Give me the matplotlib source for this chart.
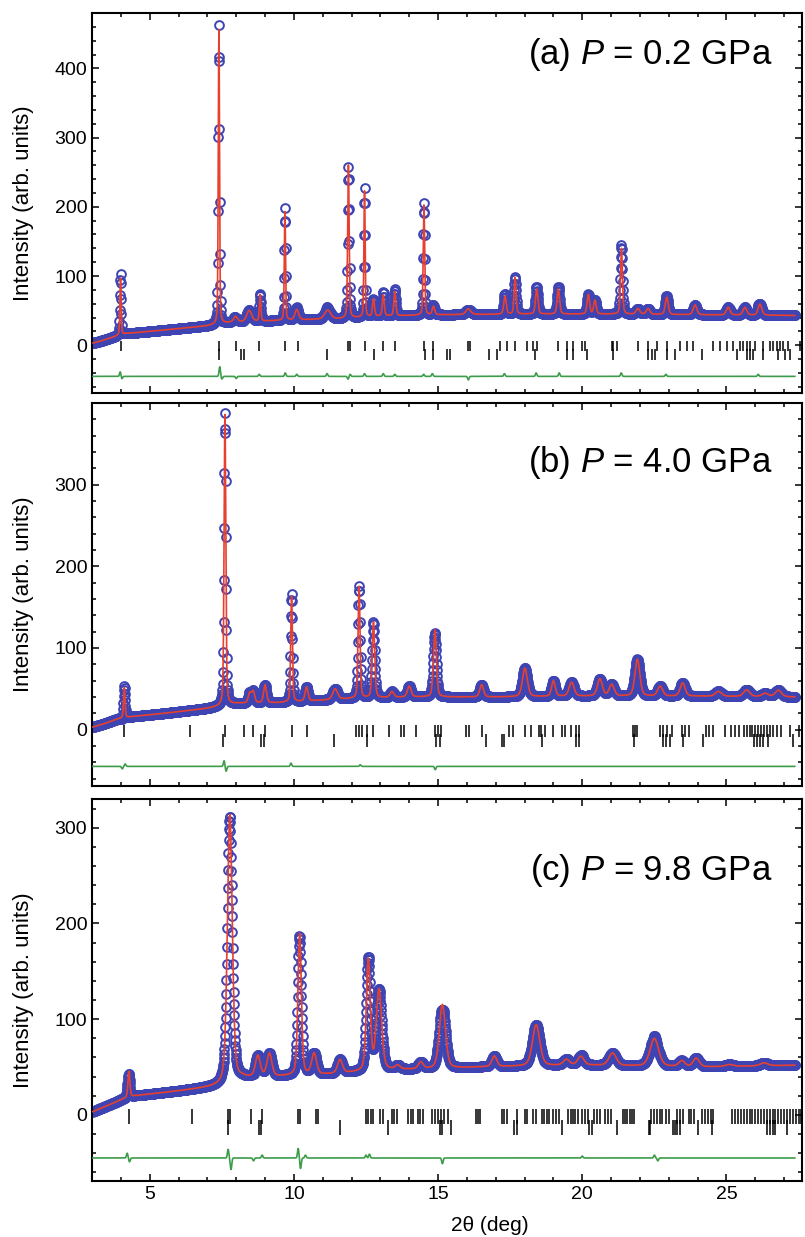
import matplotlib.pyplot as plt
import numpy as np
from matplotlib.ticker import MultipleLocator

plt.rcParams['font.family'] = ['Liberation Sans', 'DejaVu Sans']
plt.rcParams['mathtext.fontset'] = 'custom'
plt.rcParams['mathtext.it'] = 'Liberation Sans:italic'
plt.rcParams['mathtext.rm'] = 'Liberation Sans'

# scan range (2theta, deg) and step
two_theta_start = 3.03
two_theta_stop = 27.38
step = 0.01

# ---- panel (a) P = 0.2 GPa ----
bg_a_x = [3.0, 3.3, 3.6, 3.9, 4.2, 5.0, 6.0, 7.0, 7.3, 7.8, 9.0, 10.5, 11.5, 13.0, 15.0, 18.0, 21.0, 24.0, 27.5]
bg_a_y = [3, 6, 10, 14, 17, 20, 24, 28, 30, 33, 35, 37, 38, 42, 44, 45, 45, 44, 43]
pk_a_pos = [3.99, 7.40, 7.98, 8.45, 8.83, 9.69, 10.10, 11.17, 11.89, 12.45, 12.76, 13.10, 13.50,
            14.51, 14.84, 16.05, 17.32, 17.67, 18.42, 19.17, 20.21, 20.44, 21.36, 21.93, 22.28, 22.93,
            23.91, 25.06, 25.64, 26.16]
pk_a_h = [82, 425, 8, 16, 38, 157, 15, 13, 221, 182, 25, 30, 35,
          159, 12, 8, 26, 53, 36, 36, 28, 20, 95, 8, 8, 25,
          14, 11, 11, 16]
pk_a_w = [0.05, 0.05, 0.15, 0.2, 0.06, 0.05, 0.15, 0.25, 0.06, 0.05, 0.08, 0.08, 0.08,
          0.06, 0.1, 0.2, 0.1, 0.08, 0.1, 0.1, 0.1, 0.1, 0.08, 0.15, 0.15, 0.12,
          0.15, 0.15, 0.15, 0.15]
df_a_pos = [3.98, 4.03, 7.43, 7.50, 8.00, 8.80, 9.70, 10.10, 11.15, 11.88, 11.95, 12.45, 13.10, 13.50,
            14.50, 14.80, 16.05, 17.30, 18.40, 19.20, 21.35, 22.90, 26.10]
df_a_amp = [7, -4, 14, -4, -3, 3, 5, 3, 4, -4, 3, 4, 4, 3,
            3, 4, -5, 4, 5, 5, 5, 3, 3]
bragg_a_1 = [3.99, 7.40, 7.99, 8.80, 9.69, 10.13, 11.86, 11.94, 12.45, 13.09, 13.49,
             14.51, 14.84, 16.05, 16.11, 17.15, 17.38, 17.67, 18.07, 18.30, 18.42, 19.17, 19.46, 19.69,
             19.98, 20.10, 21.02, 21.08, 21.19, 21.94, 22.29, 22.58, 22.93, 23.39, 23.62, 23.85,
             24.54, 24.78, 25.01, 25.24, 25.47, 25.58, 25.70, 25.82, 25.99, 26.28, 26.51, 26.63,
             26.74, 26.86, 26.97, 27.15, 27.55]
bragg_a_2 = [7.40, 8.17, 8.28, 11.15, 12.78, 14.55, 14.84, 15.30, 15.42, 16.75, 17.05, 18.37, 19.46,
             19.69, 20.15, 21.08, 22.29, 22.41, 22.53, 22.93, 23.21, 24.15, 25.35, 25.70, 25.82,
             25.93, 26.28, 26.80, 27.03, 27.20]

# ---- panel (b) P = 4.0 GPa ----
bg_b_x = [3.0, 3.4, 3.8, 4.0, 4.4, 5.5, 7.0, 7.5, 8.0, 9.5, 11.0, 12.0, 14.0, 17.0, 20.0, 24.0, 27.5]
bg_b_y = [3, 7, 12, 14, 16, 20, 26, 29, 32, 33, 36, 38, 40, 40, 41, 41, 40]
pk_b_pos = [4.12, 7.61, 8.47, 8.59, 9.00, 9.92, 10.44, 11.43, 12.26, 12.76, 13.40, 14.00, 14.89,
            16.51, 18.01, 19.00, 19.63, 20.61, 21.02, 21.91, 22.70, 23.48, 24.72, 25.70, 26.34, 26.80]
pk_b_h = [37, 356, 12, 14, 22, 129, 17, 13, 137, 93, 7, 13, 82,
          15, 35, 19, 17, 21, 14, 45, 12, 16, 6, 8, 4, 8]
pk_b_w = [0.06, 0.07, 0.12, 0.12, 0.12, 0.07, 0.12, 0.2, 0.08, 0.1, 0.15, 0.15, 0.12,
          0.15, 0.2, 0.15, 0.2, 0.2, 0.2, 0.2, 0.2, 0.2, 0.25, 0.25, 0.25, 0.25]
df_b_pos = [4.05, 4.15, 7.58, 7.65, 9.90, 12.30, 14.90]
df_b_amp = [-3, 3, 7, -6, 4, 2, -4]
bragg_b_1 = [4.12, 6.40, 7.61, 8.28, 8.59, 9.00, 9.92, 10.44, 12.17, 12.26, 12.36, 12.55, 12.76,
             13.30, 13.70, 13.82, 14.25, 14.90, 15.00, 15.10, 15.98, 16.08, 16.51, 17.45, 17.60,
             18.01, 18.23, 18.50, 18.58, 18.70, 19.00, 19.28, 19.40, 19.60, 19.78, 19.90,
             21.75, 21.82, 21.90, 22.70, 22.80, 22.95, 23.10, 23.45, 23.55, 23.70, 24.30, 24.40,
             24.55, 24.95, 25.15, 25.30, 25.45, 25.60, 25.70, 25.80, 25.90, 26.00, 26.10, 26.20,
             26.30, 26.40, 26.50, 26.60, 26.75, 26.90, 27.20, 27.50]
bragg_b_2 = [7.55, 8.85, 8.95, 11.40, 12.55, 14.92, 15.05, 16.65, 17.20, 17.28, 18.60, 19.78, 19.90,
             21.78, 22.80, 22.90, 23.05, 23.50, 24.20, 25.95, 26.05, 26.15, 26.25, 26.45, 27.30]

# ---- panel (c) P = 9.8 GPa ----
bg_c_x = [3.0, 3.4, 3.8, 4.1, 4.5, 6.0, 7.4, 7.6, 8.2, 9.5, 11.0, 12.0, 13.5, 15.0, 16.5, 20.0, 24.0, 27.5]
bg_c_y = [3, 8, 13, 17, 20, 25, 30, 33, 38, 40, 42, 44, 47, 48, 50, 52, 50, 52]
pk_c_pos = [4.28, 7.78, 8.75, 9.15, 10.20, 10.70, 11.60, 12.58, 12.95, 13.60, 14.40, 15.15,
            16.95, 18.40, 19.45, 19.95, 21.05, 22.50, 23.45, 23.95, 25.10, 26.30]
pk_c_h = [27, 279, 22, 24, 148, 22, 14, 116, 84, 4, 7, 67,
          11, 43, 6, 9, 13, 29, 6, 9, 2, 3]
pk_c_w = [0.08, 0.2, 0.2, 0.2, 0.14, 0.2, 0.2, 0.16, 0.22, 0.2, 0.2, 0.25,
          0.2, 0.3, 0.25, 0.25, 0.3, 0.35, 0.25, 0.25, 0.3, 0.3]
df_c_pos = [4.22, 4.30, 7.72, 7.82, 8.60, 8.90, 10.15, 10.23, 10.40, 12.50, 12.62, 15.15, 20.00, 22.50, 22.62]
df_c_amp = [5, -4, 9, -12, -3, 3, 10, -11, 3, 3, 4, -6, 2, 3, -3]
bragg_c_1 = [4.28, 6.45, 7.73, 7.80, 8.52, 8.90, 10.15, 10.22, 10.75, 10.82, 12.50, 12.58, 12.66,
             12.74, 13.00, 13.10, 13.40, 13.48, 13.56, 13.95, 14.05, 14.12, 14.30, 14.38, 14.46,
             14.80, 14.88, 15.00, 15.10, 15.20, 15.35, 16.30, 16.38, 16.46, 17.20, 17.30, 17.38,
             17.75, 18.00, 18.08, 18.30, 18.38, 18.60, 18.68, 18.76, 18.84, 19.00, 19.10, 19.20,
             19.50, 19.60, 19.68, 19.76, 19.85, 20.00, 20.10, 20.20, 20.40, 20.50, 20.60, 20.80,
             20.90, 21.00, 21.40, 21.48, 21.56, 21.64, 21.72, 21.80, 22.40, 22.48, 22.60, 22.68,
             22.76, 22.90, 23.00, 23.30, 23.40, 23.50, 23.70, 23.78, 23.86, 24.15, 24.25, 24.35,
             24.45, 24.55, 25.20, 25.30, 25.40, 25.50, 25.60, 25.70, 25.80, 25.90, 26.00, 26.10,
             26.20, 26.30, 26.40, 26.50, 26.60, 26.70, 26.80, 26.90, 27.00, 27.10, 27.20, 27.30,
             27.40, 27.50, 27.60]
bragg_c_2 = [7.70, 8.80, 8.85, 11.60, 13.25, 15.05, 15.15, 15.45, 17.65, 17.75, 19.30, 20.25, 20.35,
             21.20, 22.30, 22.36, 23.15, 23.22, 23.30, 23.38, 24.00, 24.50, 26.40, 26.50, 26.60, 26.70, 27.10]

panels = [
    dict(bgx=bg_a_x, bgy=bg_a_y, pos=pk_a_pos, h=pk_a_h, w=pk_a_w, dpos=df_a_pos, damp=df_a_amp,
         b1=bragg_a_1, b2=bragg_a_2, ylim=(-69, 480), ymaj=[0, 100, 200, 300, 400],
         label='(a) $P$ = 0.2 GPa', ly=0.866, rect=[0.1143, 0.6823, 0.882, 0.3072]),
    dict(bgx=bg_b_x, bgy=bg_b_y, pos=pk_b_pos, h=pk_b_h, w=pk_b_w, dpos=df_b_pos, damp=df_b_amp,
         b1=bragg_b_1, b2=bragg_b_2, ylim=(-69, 400), ymaj=[0, 100, 200, 300],
         label='(b) $P$ = 4.0 GPa', ly=0.82, rect=[0.1143, 0.3646, 0.882, 0.3096]),
    dict(bgx=bg_c_x, bgy=bg_c_y, pos=pk_c_pos, h=pk_c_h, w=pk_c_w, dpos=df_c_pos, damp=df_c_amp,
         b1=bragg_c_1, b2=bragg_c_2, ylim=(-69, 330), ymaj=[0, 100, 200, 300],
         label='(c) $P$ = 9.8 GPa', ly=0.788, rect=[0.1143, 0.0453, 0.882, 0.3088]),
]

diff_offset = -45

x = np.arange(two_theta_start, two_theta_stop, step)

def calc_profile(p):
    y = np.interp(x, p['bgx'], p['bgy'])
    for c, h, w in zip(p['pos'], p['h'], p['w']):
        u = (x - c) / w
        y = y + h * (0.65 * np.exp(-4 * np.log(2) * u ** 2) + 0.35 / (1 + 4 * u ** 2))
    return y

def diff_profile(p):
    d = np.zeros_like(x)
    for c, a in zip(p['dpos'], p['damp']):
        d = d + a * np.exp(-0.5 * ((x - c) / 0.025) ** 2)
    return d

fig = plt.figure(figsize=(8.05, 12.37), dpi=100)

for i, p in enumerate(panels):
    ax = fig.add_axes(p['rect'])
    calc = calc_profile(p)
    diff = diff_profile(p)
    obs = calc + diff

    ax.plot(x, obs, 'o', ms=6.3, mfc='none', mec='#3f44b3', mew=1.4, zorder=2)
    ax.plot(x, calc, color='#e8402e', lw=1.2, zorder=3)
    ax.plot(x, diff + diff_offset, color='#3c9c4a', lw=1.2, zorder=3)
    ax.vlines(p['b1'], -9, 6, color='black', lw=1.1)
    ax.vlines(p['b2'], -21, -5, color='black', lw=1.1)

    ax.set_xlim(3.0, 27.62)
    ax.set_ylim(*p['ylim'])
    ax.xaxis.set_major_locator(MultipleLocator(5))
    ax.xaxis.set_minor_locator(MultipleLocator(1))
    ax.set_yticks(p['ymaj'])
    ax.yaxis.set_minor_locator(MultipleLocator(20))
    ax.tick_params(which='both', direction='in', top=True, right=True, width=1.1, labelsize=14)
    ax.tick_params(which='major', length=5)
    ax.tick_params(which='minor', length=3)
    for s in ax.spines.values():
        s.set_linewidth(1.5)

    ax.set_ylabel('Intensity (arb. units)', fontsize=16)
    ax.yaxis.set_label_coords(-0.082, 0.5)
    ax.text(0.958, p['ly'], p['label'], transform=ax.transAxes, ha='right', va='baseline', fontsize=25)

    if i < 2:
        ax.tick_params(labelbottom=False)
    else:
        ax.set_xlabel('2θ (deg)', fontsize=15)
        ax.xaxis.set_label_coords((490 - 92) / 710, -0.092)

fig.savefig('out.png', dpi=100)
